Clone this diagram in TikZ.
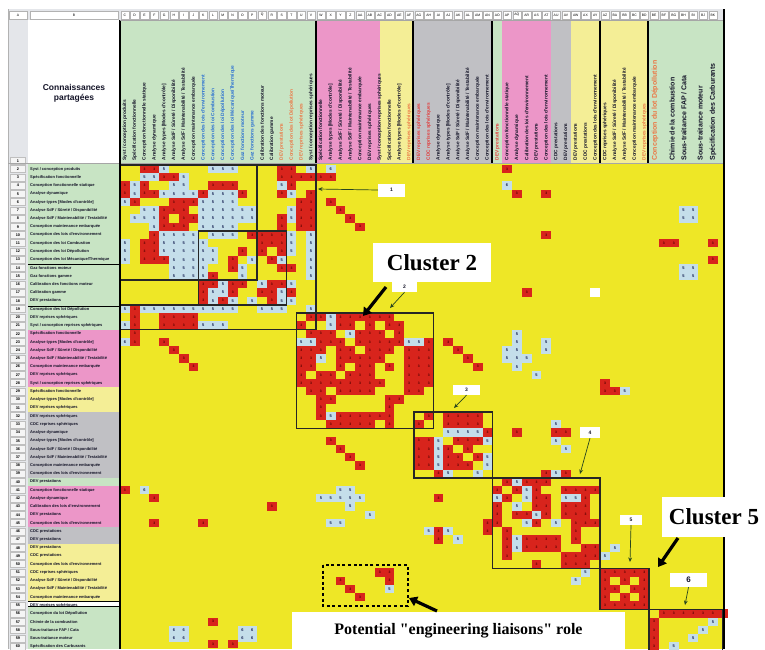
\documentclass[tikz,border=0pt]{standalone}
\usepackage{fontspec}
\setmainfont{Liberation Serif}
\newfontfamily\lsans{Liberation Sans}
\usetikzlibrary{arrows.meta}
\definecolor{dsmyellow}{RGB}{238,231,38}
\definecolor{cellred}{RGB}{216,36,28}
\definecolor{cellblue}{RGB}{196,222,234}
\definecolor{hgreen}{RGB}{200,228,196}
\definecolor{hpink}{RGB}{236,150,200}
\definecolor{hgray}{RGB}{192,192,196}
\definecolor{hyellow}{RGB}{244,238,150}
\definecolor{lgray}{RGB}{228,230,234}
\definecolor{arrgreen}{RGB}{40,70,30}
\definecolor{lblblue}{RGB}{40,110,210}
\definecolor{lblorange}{RGB}{235,120,70}
\definecolor{lblred}{RGB}{225,60,60}
\definecolor{txtdark}{RGB}{20,20,40}
\definecolor{digred}{RGB}{80,0,0}
\definecolor{digblue}{RGB}{20,30,80}
\newcommand\lblB{\color{lblblue}}
\newcommand\lblO{\color{lblorange}}
\newcommand\lblR{\color{lblred}}
\newcommand\sq{\XeTeXglyph\XeTeXcharglyph"22\relax}
\makeatletter
\newcount\dsmc
\newcommand\dsm[3]{\def\dsmr{#1}\global\dsmc=#2\relax
 \@tfor\dsmch:=#3\do{\dsmdraw\global\advance\dsmc by 1\relax}}
\newcommand\dsmdraw{%
 \if R\dsmch\fill[cellred](\the\dsmc,\dsmr)rectangle ++(1,1);\node[rdig] at (\the\dsmc+0.5,\dsmr+0.5){3};\fi
 \if 5\dsmch\fill[cellblue](\the\dsmc,\dsmr)rectangle ++(1,1);\node[bdig] at (\the\dsmc+0.5,\dsmr+0.5){5};\fi
 \if 6\dsmch\fill[cellblue](\the\dsmc,\dsmr)rectangle ++(1,1);\node[bdig] at (\the\dsmc+0.5,\dsmr+0.5){6};\fi
 \if W\dsmch\fill[white](\the\dsmc,\dsmr)rectangle ++(1,1);\fi}
\makeatother
\def\dsmlist{{Syst / conception produits},
{Spécification fonctionnelle},
{Conception fonctionnelle statique},
{Analyse dynamique},
{Analyse types [Modes d'contrôle]},
{Analyse SdF / Sûreté / Disponibilité},
{Analyse SdF / Maintenabilité / Testabilité},
{Conception maintenance embarquée},
{\lblB Conception des lois d'environnement},
{\lblB Conception des loi Combustion},
{\lblB Conception des loi Dépollution},
{\lblB Conception des loi Mécanique/Thermique},
{\lblB Gaz fonctions moteur},
{\lblB Gaz fonctions gamme},
{Calibration des fonctions moteur},
{Calibration gamme},
{\lblO DEV prestations},
{\lblO Conception des lot Dépollution},
{\lblO DEV reprises sphériques},
{Syst / conception reprises sphériques},
{Spécification fonctionnelle},
{Analyse types [Modes d'contrôle]},
{Analyse SdF / Sûreté / Disponibilité},
{Analyse SdF / Maintenabilité / Testabilité},
{Conception maintenance embarquée},
{DEV reprises sphériques},
{Syst / conception reprises sphériques},
{Spécification fonctionnelle},
{Analyse types [Modes d'contrôle]},
{\lblO DEV reprises sphériques},
{\lblR DEV reprises sphériques},
{\lblR CDC reprises sphériques},
{Analyse dynamique},
{Analyse types [Modes d'contrôle]},
{Analyse SdF / Sûreté / Disponibilité},
{Analyse SdF / Maintenabilité / Testabilité},
{Conception maintenance embarquée},
{Conception des lois d'environnement},
{\lblR DEV prestations},
{Conception fonctionnelle statique},
{Analyse dynamique},
{Calibration des lois d'environnement},
{DEV prestations},
{Conception des lois d'environnement},
{CDC prestations},
{DEV prestations},
{DEV prestations},
{CDC prestations},
{Conception des lois d'environnement},
{CDC reprises sphériques},
{Analyse SdF / Sûreté / Disponibilité},
{Analyse SdF / Maintenabilité / Testabilité},
{Conception maintenance embarquée},
{\lblO DEV reprises sphériques},
{Conception du lot Dépollution},
{Chimie de la combustion},
{Sous-traitance FAP / Cata},
{Sous-traitance moteur},
{Spécification des Carburants}}
\begin{document}
\begin{tikzpicture}[x=1pt,y=-1pt,
  rdig/.style={inner sep=0pt,font=\lsans\bfseries\fontsize{3.4}{3.4}\selectfont,text=digred},
  bdig/.style={inner sep=0pt,font=\lsans\bfseries\fontsize{4}{4}\selectfont,text=digblue},
  collab/.style={rotate=90,anchor=west,inner sep=0.4pt,font=\lsans\bfseries\fontsize{4.8}{4.8}\selectfont,text=txtdark},
  bigcollab/.style={rotate=90,anchor=west,inner sep=0.4pt,font=\lsans\bfseries\fontsize{7}{7}\selectfont,text=txtdark},
  rowlab/.style={anchor=west,inner sep=0pt,font=\lsans\bfseries\fontsize{4}{4}\selectfont,text=txtdark},
  letbox/.style={draw=gray!60,fill=white,minimum width=8.4pt,minimum height=7.5pt,inner sep=0pt,font=\lsans\fontsize{3.4}{3.4}\selectfont},
  numcell/.style={draw=gray!50,fill=white!92!gray,minimum width=15pt,minimum height=7pt,inner sep=0pt,font=\lsans\bfseries\fontsize{3.8}{3.8}\selectfont},
  clus/.style={draw=black!85,line width=1.5pt},
  numbox/.style={fill=white,inner sep=0pt,font=\lsans\bfseries\fontsize{5}{5}\selectfont,text=txtdark},
  thinarr/.style={draw=arrgreen,line width=0.7pt,-{Stealth[length=4.5pt,width=3.8pt]}},
  bigarr/.style={draw=black,line width=3.2pt,-{Triangle[length=8pt,width=10pt]}},
  clab/.style={fill=white,inner sep=0pt,font=\bfseries\fontsize{23}{23}\selectfont}]
\useasboundingbox (0,0) rectangle (765,649);
\fill[white] (0,0) rectangle (765,649);
% column letter band
\fill[lgray] (8,9) rectangle (724,20);
\node[letbox,minimum width=18pt] (letA) at (18,15) {A};
\node[letbox,minimum width=88pt] (letB) at (74,15) {B};
\foreach \L [count=\k from 0] in {C,D,E,F,G,H,I,J,K,L,M,N,O,P,Q,R,S,T,U,V,W,X,Y,Z,AA,AB,AC,AD,AE,AF,AG,AH,AI,AJ,AK,AL,AM,AN,AO,AP,AQ,AR,AS,AT,AU,AV,AW,AX,AY,AZ,BA,BB,BC,BD,BE,BF,BG,BH,BI,BJ,BK}
  {\node[letbox] (let\k) at ({124.9+9.8*\k},15) {\L};}
% row number column
\fill[lgray] (8,20) rectangle (28,649);
\draw[gray!60] (8,9) -- (8,649);
\node[numcell] (rnone) at (18,161) {1};
\foreach \k in {0,...,58}{\pgfmathtruncatemacro\rn{\k+2}
  \node[numcell] (rn\k) at (18,{169.1+8.23*\k}) {\rn};}
% header title cell
\fill[white] (28,20) rectangle (120,163);
\node[font=\lsans\bfseries\fontsize{8.5}{10}\selectfont,align=center,text=txtdark] (hdrtitle) at (74,93) {Connaissances\\partagées};
% header column groups
\fill[hgreen] (120,20) rectangle (316,163);
\fill[hpink] (316,20) rectangle (380,163);
\fill[hyellow] (380,20) rectangle (413,163);
\fill[hgray] (413,20) rectangle (492,163);
\fill[hgreen] (492,20) rectangle (502,163);
\fill[hpink] (502,20) rectangle (551,163);
\fill[hgray] (551,20) rectangle (571,163);
\fill[hyellow] (571,20) rectangle (648,163);
\fill[hgreen] (648,20) rectangle (724,163);
\foreach \t [count=\k from 0] in \dsmlist {\ifnum\k<54
  \node[collab] (colh\k) at ({124.9+9.8*\k},161) {\t};\fi}
\node[bigcollab,text=lblorange] (colhA) at (655,161) {Conception du lot Dépollution};
\node[bigcollab] (colhB) at (672,161) {Chimie de la combustion};
\node[bigcollab] (colhC) at (684,161) {Sous-traitance FAP / Cata};
\node[bigcollab] (colhD) at (700,161) {Sous-traitance moteur};
\node[bigcollab] (colhE) at (713,161) {Spécification des Carburants};
\foreach \xx in {120,316,413,492,600,648,724}{\draw[line width=1.1pt] (\xx,20) -- (\xx,163);}
\draw[gray!70,line width=0.5pt] (120,20) -- (724,20);
% row label groups
\fill[hgreen] (28,163) rectangle (120,329.6);
\fill[hpink] (28,329.6) rectangle (120,387.2);
\fill[hyellow] (28,387.2) rectangle (120,411.9);
\fill[hgray] (28,411.9) rectangle (120,477.7);
\fill[hgreen] (28,477.7) rectangle (120,486);
\fill[hpink] (28,486) rectangle (120,527.1);
\fill[hgray] (28,527.1) rectangle (120,543.6);
\fill[hyellow] (28,543.6) rectangle (120,601);
\fill[hgreen] (28,606) rectangle (120,649);
\begin{scope}
\def\lblB{}\def\lblO{}\def\lblR{}
\foreach \t [count=\k from 0] in \dsmlist {\node[rowlab] (rowl\k) at (30,{169.1+8.23*\k}) {\t};}
\end{scope}
% matrix
\fill[dsmyellow] (120,163) rectangle (724,649);
\draw[gray!70,line width=0.6pt] (8,163) -- (724,163);
\begin{scope}[shift={(120,165)},x=9.8pt,y=-8.23pt]
\dsm{0}{2}{RR5}\dsm{0}{9}{555}\dsm{0}{16}{RR}\dsm{0}{19}{5}\dsm{0}{21}{6}\dsm{0}{39}{R}
\dsm{1}{2}{55RR5}\dsm{1}{16}{RRRRRR}
\dsm{2}{0}{R5R..55..RRR}\dsm{2}{16}{5R}\dsm{2}{39}{6}
\dsm{3}{0}{R5RR5555R555R}\dsm{3}{16}{R5.R}\dsm{3}{40}{R}\dsm{3}{43}{R}
\dsm{4}{0}{5R...RRR5555}\dsm{4}{18}{RR.R}
\dsm{5}{2}{55RRR.555555}\dsm{5}{17}{5RR..R}\dsm{5}{57}{55}
\dsm{6}{1}{555R.RR555555}\dsm{6}{16}{R5RR...R}\dsm{6}{57}{55}
\dsm{7}{3}{5RRR.5555}\dsm{7}{16}{R.RR....R}
\dsm{8}{3}{R5555.555.RRRR5.5}\dsm{8}{43}{R}
\dsm{9}{0}{5.RR55555.....RRR5.5}\dsm{9}{55}{RR}\dsm{9}{60}{R}
\dsm{10}{0}{5.RR555555..R.R.R5.5}
\dsm{11}{0}{5.RRR55555.R.5.R5..5}\dsm{11}{60}{R}
\dsm{12}{5}{5555..R5...RR.5}\dsm{12}{57}{55}
\dsm{13}{5}{5555R..5......5}\dsm{13}{57}{55}
\dsm{14}{8}{RR5RR.5RR5}
\dsm{15}{8}{R55R..RR5R}\dsm{15}{41}{R}\dsm{15}{48}{W}
\dsm{16}{8}{R5R5.5.R55}
\dsm{17}{0}{5R5555555555..555..5}
\dsm{18}{1}{R..RRRR}
\dsm{19}{0}{5R..RRRR555}
\dsm{20}{1}{R}\dsm{20}{40}{5}
\dsm{21}{0}{6R..R}\dsm{21}{33}{R}\dsm{21}{40}{5}\dsm{21}{43}{5}
\dsm{22}{5}{R}\dsm{22}{34}{R}\dsm{22}{39}{55}\dsm{22}{43}{5}
\dsm{23}{6}{R}\dsm{23}{35}{R}\dsm{23}{39}{555}
\dsm{24}{7}{R}\dsm{24}{36}{R}\dsm{24}{40}{5}
\dsm{25}{42}{5}
\dsm{26}{49}{R}
\dsm{27}{49}{RR5}
% cluster 2
\dsm{18}{18}{.RR5RRRRRR}
\dsm{19}{18}{R..5RR.R.RR}
\dsm{20}{18}{.RRR.5RRR.R}
\dsm{21}{18}{55RRR.RRRRR55R}
\dsm{22}{18}{RRR.RR.RRR.RRR}
\dsm{23}{18}{RR5.RRRRR..RRR}
\dsm{24}{18}{RR..R.RR.R.RRR}
\dsm{25}{18}{R.RR.RRR...RRR}
\dsm{26}{18}{RRRRRRRRR..RRR}
\dsm{27}{18}{.RR.RRRR...RR.}
\dsm{28}{18}{..RR.....RR...}
\dsm{29}{18}{..R......R....}
\dsm{30}{18}{..R5RRRRRR}
\dsm{31}{18}{...RRRRR.R}
% cluster 3
\dsm{30}{30}{.R.RRRR}
\dsm{31}{30}{R..RRRR}
\dsm{32}{30}{...5555R}
\dsm{33}{30}{RR5.RRR5}
\dsm{34}{30}{RR5R.R..}
\dsm{35}{30}{RR5RR.R5}
\dsm{36}{30}{RR5RRR.5}
\dsm{37}{30}{..R5..5.}
\dsm{31}{44}{5}\dsm{32}{40}{R}\dsm{32}{44}{RR}\dsm{33}{44}{5}\dsm{34}{45}{5}
\dsm{33}{21}{R}\dsm{34}{22}{R}\dsm{35}{23}{R}\dsm{36}{24}{R}
\dsm{39}{0}{R.6}\dsm{39}{22}{55}
\dsm{40}{3}{R}\dsm{40}{20}{55555}\dsm{40}{32}{R}
\dsm{41}{15}{R}\dsm{41}{23}{5}
\dsm{42}{25}{5}
\dsm{43}{3}{R}\dsm{43}{8}{R}\dsm{43}{21}{55}\dsm{43}{37}{R}
\dsm{44}{31}{5R5}\dsm{44}{37}{R}
\dsm{45}{32}{R.5}
% cluster 4
\dsm{37}{43}{R5R}
\dsm{38}{39}{R5RRR}
\dsm{39}{38}{R.R5R..RRRR}
\dsm{40}{38}{5R.5RR.55R.}
\dsm{41}{38}{R.5.RR.RRR.}
\dsm{42}{38}{R.RR5R.RRR.}
\dsm{43}{38}{R..5R.5.RRR}
\dsm{44}{38}{.R......R..}
\dsm{45}{38}{.R5RRRR.R..}
\dsm{46}{38}{.R5RRRR..RR}
\dsm{47}{38}{.R.....RRRR}
\dsm{48}{38}{....R..RRR.}
\dsm{46}{50}{5}\dsm{47}{49}{5}\dsm{49}{47}{5}\dsm{50}{46}{5}
% liaisons
\dsm{49}{26}{RR}\dsm{50}{22}{R}\dsm{50}{27}{R}\dsm{51}{23}{R}\dsm{51}{27}{5}\dsm{52}{24}{R}
% cluster 5
\dsm{49}{49}{RRRRR}
\dsm{50}{49}{R.R.R}
\dsm{51}{49}{RR.RR}
\dsm{52}{49}{R.R.R}
\dsm{53}{49}{RRRRR}
% cluster 6
\dsm{54}{54}{.RRRRRRR}
\dsm{55}{54}{R.....5}
\dsm{56}{54}{R....5}
\dsm{57}{54}{R...5}
\dsm{58}{54}{R.5}
% bottom left
\dsm{55}{9}{R}\dsm{56}{5}{66}\dsm{57}{5}{66}\dsm{56}{12}{66}\dsm{57}{12}{66}\dsm{57.7}{9}{R.R}
% cluster frames
\draw[clus] (0,0) rectangle (14,14);
\draw[clus] (8,8) rectangle (17,17);
\draw[clus] (0,0) rectangle (20,20);
\draw[clus] (0,17) -- (8,17);
\draw[clus] (18,18) rectangle (32,32);
\draw[clus] (30,30) rectangle (38,38);
\draw[clus] (38,38) rectangle (49,49);
\draw[clus] (49,49) rectangle (54,54);
\draw[clus] (54,54) rectangle (61.5,60);
\end{scope}
\draw[line width=1.1pt] (120,163) -- (120,649);
\draw[line width=1.1pt] (724,9) -- (724,649);
\draw[line width=0.9pt] (28,264) -- (120,264);
\draw[line width=0.9pt] (28,306) -- (120,306);
\draw[line width=0.9pt] (28,601) -- (120,601);
\draw[line width=0.9pt] (28,606) -- (120,606);
% number labels
\node[numbox,minimum width=27pt,minimum height=13pt] (n1) at (391.5,190) {1};
\coordinate (t1) at (318,189);
\draw[thinarr] (n1.west) -- (t1);
\node[numbox,minimum width=25pt,minimum height=10pt] (n2) at (404.5,287) {2};
\coordinate (t2) at (390,308);
\draw[thinarr] (n2.south) -- (t2);
\node[numbox,minimum width=27pt,minimum height=10pt] (n3) at (466.5,390) {3};
\coordinate (t3) at (454,408);
\draw[thinarr] (n3.south) -- (t3);
\node[numbox,minimum width=20pt,minimum height=11pt] (n4) at (590,432.5) {4};
\coordinate (t4) at (580,474);
\draw[thinarr] (n4.south) -- (t4);
\node[numbox,minimum width=22pt,minimum height=10pt] (n5) at (631,520) {5};
\coordinate (t5) at (630,562);
\draw[thinarr] (n5.south) -- (t5);
\node[numbox,minimum width=37pt,minimum height=14pt,font=\lsans\bfseries\fontsize{8}{8}\selectfont] (n6) at (688.5,580) {6};
\coordinate (t6) at (685,605);
\draw[thinarr] (n6.south) -- (t6);
% cluster labels
\node[clab,minimum width=118pt,minimum height=39pt] (cltwo) at (432,262.5) {Cluster 2};
\coordinate (a2s) at (386,287);
\coordinate (a2e) at (363,316);
\draw[bigarr] (a2s) -- (a2e);
\node[clab,minimum width=105pt,minimum height=40pt] (clfive) at (714,517) {Cluster 5};
\coordinate (a5s) at (678,538);
\coordinate (a5e) at (658,567);
\draw[bigarr] (a5s) -- (a5e);
% potential liaisons
\draw[line width=2.8pt,dash pattern=on 3pt off 2.6pt] (323,565) rectangle (408,606);
\node[fill=white,minimum width=333pt,minimum height=37pt,inner sep=0pt,font=\bfseries\fontsize{16}{16}\selectfont] (pot) at (458.5,630.5) {Potential \sq engineering liaisons\sq{} role};
\coordinate (aps) at (437,611);
\coordinate (ape) at (409,598);
\draw[bigarr] (aps) -- (ape);
\end{tikzpicture}
\end{document}
